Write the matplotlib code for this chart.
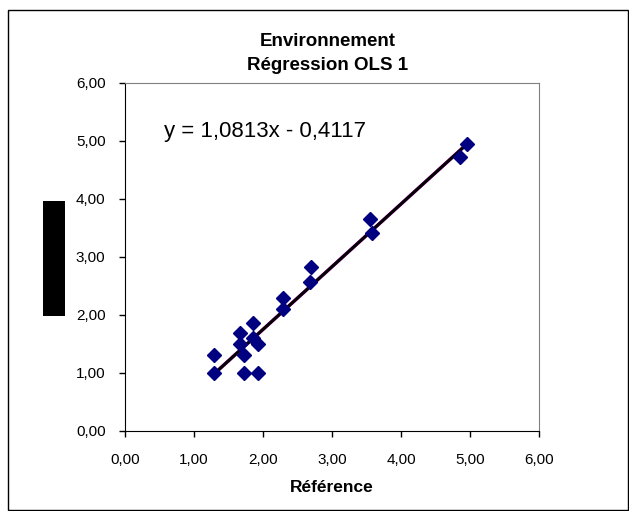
import numpy as np
import matplotlib
matplotlib.use("Agg")
import matplotlib.pyplot as plt
from matplotlib.patches import Rectangle

plt.rcParams['font.family'] = ['Liberation Sans', 'DejaVu Sans']

# data
reference = [1.29, 1.29, 1.72, 1.93, 1.67, 1.86, 1.67, 1.86, 1.93, 1.72,
             2.29, 2.29, 2.68, 2.70, 3.55, 3.58, 4.86, 4.96]
environnement = [1.00, 1.31, 1.00, 1.00, 1.69, 1.86, 1.50, 1.60, 1.50, 1.31,
                 2.29, 2.10, 2.57, 2.83, 3.66, 3.41, 4.72, 4.95]
slope = 1.0813
intercept = -0.4117
ticks = [0, 1, 2, 3, 4, 5, 6]

fig = plt.figure(figsize=(6.29, 5.11), dpi=100)
ax = fig.add_axes([0.1987, 0.1566, 0.6582, 0.681])

# outer chart frame
fig.patches.append(Rectangle((8 / 629, 1 / 511), 620 / 629, 500 / 511,
                             transform=fig.transFigure, fill=False,
                             edgecolor='black', linewidth=1))
# black box where the y label sits
fig.patches.append(Rectangle((43 / 629, 1 - 316 / 511), 22 / 629, 115 / 511,
                             transform=fig.transFigure, facecolor='black',
                             edgecolor='none'))

xs = np.array([min(reference), max(reference)])
ax.plot(xs, slope * xs + intercept, color='#cc00cc', linewidth=2.5, zorder=2)
ax.plot(xs, slope * xs + intercept, color='black', linewidth=2.2, zorder=3)
ax.plot(reference, environnement, linestyle='none', marker='D', markersize=7,
        color='#000080', zorder=4)

ax.set_xlim(0, 6)
ax.set_ylim(0, 6)
ax.set_xticks(ticks)
ax.set_yticks(ticks)
ax.set_xticklabels([f"{t:.2f}".replace('.', ',') for t in ticks], fontsize=11)
ax.set_yticklabels([f"{t:.2f}".replace('.', ',') for t in ticks], fontsize=11)
ax.tick_params(axis='x', direction='out', length=4, width=1, pad=12)
ax.tick_params(axis='y', direction='out', length=4, width=1, pad=10)

for side in ['top', 'right']:
    ax.spines[side].set_color('#808080')
for side in ['left', 'bottom']:
    ax.spines[side].set_color('black')

ax.set_xlabel("Référence", fontsize=12.5, fontweight='bold', labelpad=9)
fig.text(0.521, 1 - 41 / 511, "Environnement", ha='center', va='center',
         fontsize=13.5, fontweight='bold')
fig.text(0.521, 1 - 66 / 511, "Régression OLS 1", ha='center', va='center',
         fontsize=13.5, fontweight='bold')
ax.text(0.095, 0.86, "y = 1,0813x - 0,4117", transform=ax.transAxes,
        fontsize=16, va='center')

fig.savefig("out.png", dpi=100)
